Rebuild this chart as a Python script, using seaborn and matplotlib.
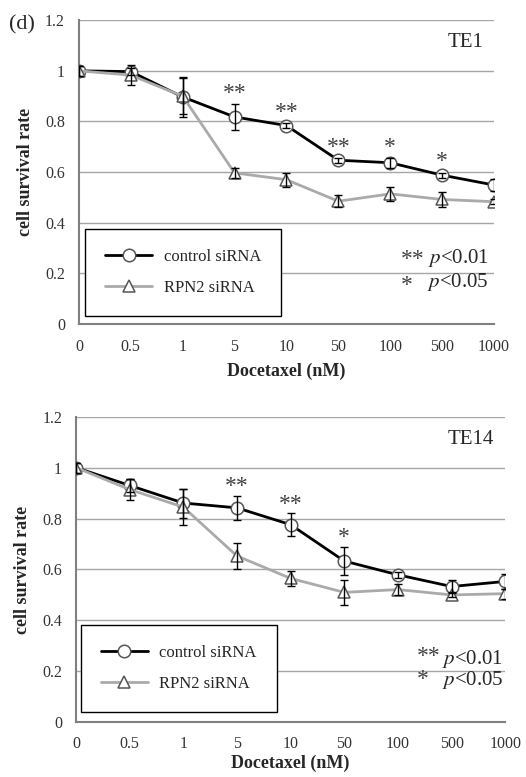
import numpy as np
import pandas as pd
import matplotlib
matplotlib.use("Agg")
import matplotlib.pyplot as plt
import seaborn as sns

doses = ["0", "0.5", "1", "5", "10", "50", "100", "500", "1000"]
groups = ["control siRNA", "RPN2 siRNA"]

te1_ctrl = [1.00, 0.997, 0.897, 0.818, 0.784, 0.647, 0.637, 0.588, 0.549]
te1_ctrl_err = [0.02, 0.015, 0.08, 0.05, 0.01, 0.01, 0.02, 0.01, 0.022]
te1_rpn2 = [1.00, 0.983, 0.90, 0.597, 0.570, 0.485, 0.514, 0.492, 0.483]
te1_rpn2_err = [0.02, 0.04, 0.07, 0.02, 0.027, 0.024, 0.027, 0.03, 0.01]
te1_sig = ["", "", "", "**", "**", "**", "*", "*", ""]

te14_ctrl = [1.00, 0.930, 0.861, 0.842, 0.776, 0.633, 0.579, 0.533, 0.553]
te14_ctrl_err = [0.02, 0.024, 0.057, 0.048, 0.044, 0.055, 0.012, 0.025, 0.03]
te14_rpn2 = [1.00, 0.914, 0.845, 0.653, 0.565, 0.510, 0.521, 0.500, 0.505]
te14_rpn2_err = [0.02, 0.04, 0.07, 0.05, 0.03, 0.05, 0.02, 0.01, 0.02]
te14_sig = ["", "", "", "**", "**", "*", "", "", ""]

SERIF = "Liberation Serif"
GRID = "#a6a6a6"
AXC = "#808080"


def draw_panel(ax, ctrl, ctrl_err, rpn2, rpn2_err, sig, name, legend_box, sig_off, key, xpad):
    pos = np.arange(len(doses))
    df = pd.DataFrame({
        "pos": np.concatenate([pos, pos]),
        "rate": ctrl + rpn2,
        "group": [groups[0]] * len(pos) + [groups[1]] * len(pos),
    })
    sns.lineplot(data=df, x="pos", y="rate", hue="group", style="group",
                 palette={groups[0]: "black", groups[1]: "#aaaaaa"},
                 markers={groups[0]: "o", groups[1]: "^"}, dashes=False,
                 markersize=9, markerfacecolor="white", markeredgecolor="#555555",
                 markeredgewidth=1.1, linewidth=2, legend=False, ax=ax, zorder=3)
    handles = list(ax.lines[:2])
    ax.errorbar(pos, ctrl, yerr=ctrl_err, fmt="none", ecolor="black",
                elinewidth=1, capsize=2.8, capthick=1, zorder=4)
    ax.errorbar(pos, rpn2, yerr=rpn2_err, fmt="none", ecolor="black",
                elinewidth=1, capsize=2.8, capthick=1, zorder=4)

    # significance marks above the control points
    for i, s in enumerate(sig):
        if s:
            ax.text(pos[i], ctrl[i] + ctrl_err[i] + sig_off, s, ha="center", va="center",
                    fontsize=17, color="#404040", family=SERIF)

    ax.set_xlim(0, len(doses) - 1)
    ax.set_ylim(0, 1.2)
    ax.set_xticks(pos)
    ax.set_xticklabels(doses)
    ax.set_yticks([0, 0.2, 0.4, 0.6, 0.8, 1.0, 1.2])
    ax.set_yticklabels(["0", "0.2", "0.4", "0.6", "0.8", "1", "1.2"])
    ax.yaxis.grid(True, color=GRID, linewidth=1)
    ax.set_axisbelow(True)
    for side in ["top", "right"]:
        ax.spines[side].set_visible(False)
    for side in ["left", "bottom"]:
        ax.spines[side].set_color(AXC)
        ax.spines[side].set_linewidth(1.5)
    ax.tick_params(axis="both", colors=AXC, width=1.2, labelcolor="#333333", labelsize=11.5)
    ax.tick_params(axis="x", direction="out", length=5, pad=xpad[0])
    ax.tick_params(axis="y", direction="out", length=4, pad=6)
    for lab in ax.get_xticklabels() + ax.get_yticklabels():
        lab.set_family(SERIF)

    ax.set_xlabel("Docetaxel (nM)", fontsize=13, fontweight="bold", family=SERIF, labelpad=xpad[1])
    ax.set_ylabel("cell survival rate", fontsize=13, fontweight="bold", family=SERIF, labelpad=8)

    ax.text(7.8, 1.11, name, ha="right", va="center", fontsize=15, family=SERIF)

    kx, px, y1, y2, s1, s2 = key
    ax.text(kx, s1, "**", ha="left", va="center", fontsize=17, color="#404040", family=SERIF)
    ax.text(px, y1, r"$\it{p}$<0.01", ha="right", va="center", fontsize=15, family=SERIF)
    ax.text(kx, s2, "*", ha="left", va="center", fontsize=17, color="#404040", family=SERIF)
    ax.text(px, y2, r"$\it{p}$<0.05", ha="right", va="center", fontsize=15, family=SERIF)

    leg = ax.legend(handles, groups, loc="center", bbox_to_anchor=legend_box,
                    frameon=True, fancybox=False, edgecolor="black", framealpha=1,
                    prop={"family": SERIF, "size": 12}, handlelength=2.8,
                    labelspacing=0.9, borderpad=1.2, handletextpad=0.7)
    leg.get_frame().set_linewidth(1)
    leg.set_zorder(5)


sns.set_theme(style="white")
plt.rcParams["font.family"] = [SERIF, "DejaVu Sans"]
plt.rcParams["mathtext.fontset"] = "stix"

fig = plt.figure(figsize=(5.26, 7.77), dpi=100)
ax1 = fig.add_axes([0.150, 0.583, 0.789, 0.391])
ax2 = fig.add_axes([0.1445, 0.0705, 0.816, 0.3932])

draw_panel(ax1, te1_ctrl, te1_ctrl_err, te1_rpn2, te1_rpn2_err, te1_sig, "TE1",
           (0.022, 0.022, 0.458, 0.297), 0.042,
           (6.2, 7.9, 0.262, 0.166, 0.256, 0.152), (6, 5))
draw_panel(ax2, te14_ctrl, te14_ctrl_err, te14_rpn2, te14_rpn2_err, te14_sig, "TE14",
           (0.016, 0.024, 0.448, 0.302), 0.037,
           (6.35, 7.97, 0.25, 0.166, 0.26, 0.168), (5, 1.5))

fig.text(0.017, 0.968, "(d)", ha="left", va="center", fontsize=16, family=SERIF)

fig.savefig("out.png", dpi=100)
